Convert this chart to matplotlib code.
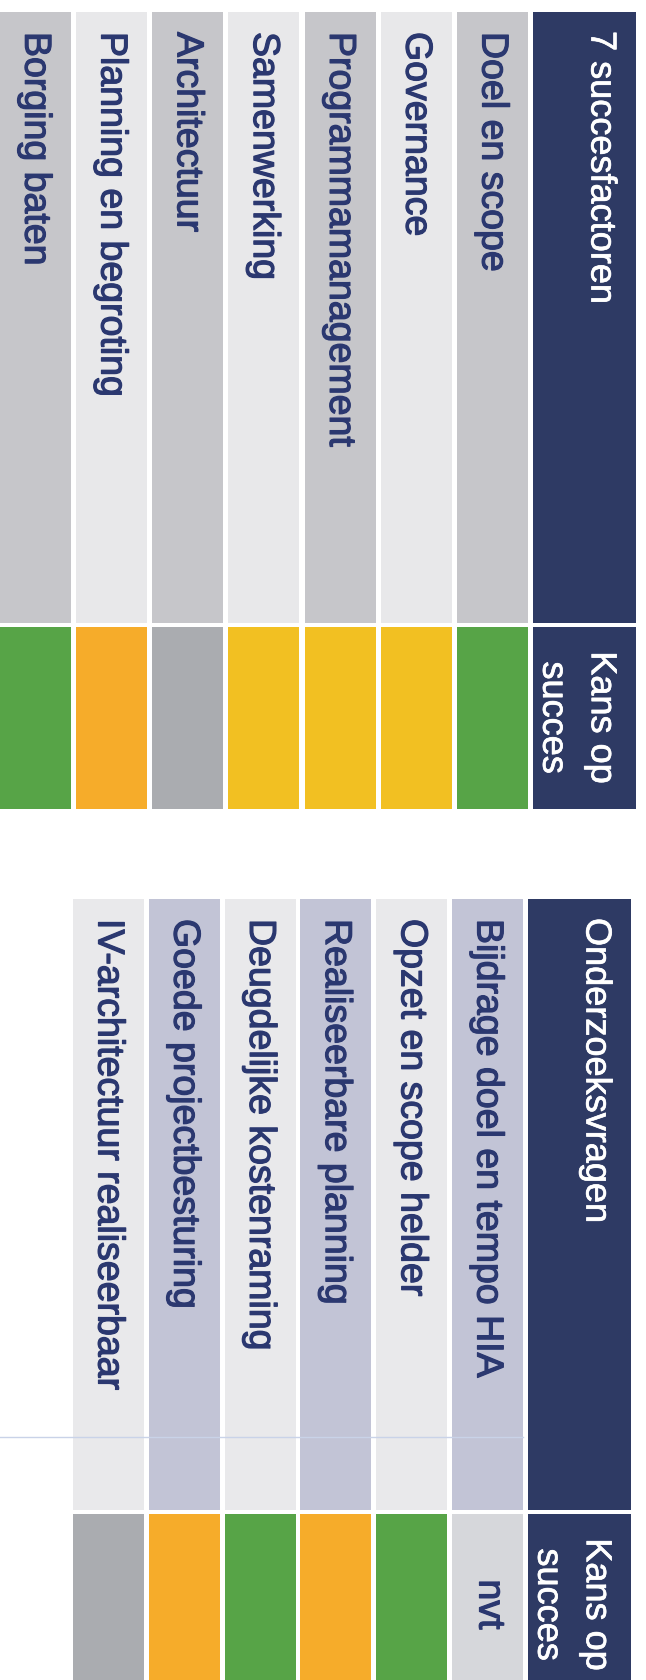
# -*- coding: utf-8 -*-
import matplotlib.pyplot as plt
import matplotlib.patheffects as pe
from matplotlib.patches import Rectangle

plt.rcParams['font.family'] = ['Liberation Sans', 'DejaVu Sans']

# gegevens van de twee tabellen
factoren = ['Doel en scope', 'Governance', 'Programmamanagement', 'Samenwerking',
            'Architectuur', 'Planning en begroting', 'Borging baten']
factoren_kans = ['groen', 'geel', 'geel', 'geel', 'grijs', 'oranje', 'groen']

vragen = ['Bijdrage doel en tempo HIA', 'Opzet en scope helder', 'Realiseerbare planning',
          'Deugdelijke kostenraming', 'Goede projectbesturing', 'IV-architectuur realiseerbaar']
vragen_kans = ['nvt', 'groen', 'oranje', 'groen', 'oranje', 'grijs']

kleuren = {'groen': '#57A447', 'geel': '#F2C022', 'oranje': '#F6AC2A',
           'grijs': '#AAACB0', 'nvt': '#D6D7DB'}

NAVY = '#2E3A64'
TEXT = '#2B3870'

W, H = 646, 1681
fig = plt.figure(figsize=(W / 100, H / 100), dpi=100)
fig.patch.set_facecolor('white')
ax = fig.add_axes([0, 0, 1, 1])
ax.set_xlim(0, W)
ax.set_ylim(H, 0)
ax.axis('off')

# scan-achtige, iets zwaardere letters
dik = [pe.withStroke(linewidth=0.9, foreground=TEXT)]
dik_wit = [pe.withStroke(linewidth=0.5, foreground='white')]


def tabel(top, right, pitch, title, labels, kansen, row_colors):
    cell_w = 71
    label_h = 611
    kans_h = 182
    gap = 3.5
    # kop
    hx = right + 5
    ax.add_patch(Rectangle((hx, top), 103, label_h, color=NAVY, lw=0))
    ax.add_patch(Rectangle((hx, top + label_h + gap), 103, kans_h, color=NAVY, lw=0))
    ax.text(hx + 68, top + 19, title, color='white', fontsize=26, rotation=-90,
            rotation_mode='anchor', ha='left', va='center', path_effects=dik_wit)
    ax.text(hx + 44, top + label_h + gap + kans_h / 2, 'Kans op\nsucces', color='white',
            fontsize=26, rotation=-90, rotation_mode='anchor', ha='center', va='center',
            multialignment='center', linespacing=1.5, path_effects=dik_wit)
    for i, (lab, kans) in enumerate(zip(labels, kansen)):
        x1 = right - i * pitch
        x0 = x1 - cell_w
        cx = (x0 + x1) / 2
        ax.add_patch(Rectangle((x0, top), cell_w, label_h, color=row_colors[i % 2], lw=0))
        ax.add_patch(Rectangle((x0, top + label_h + gap), cell_w, kans_h,
                               color=kleuren[kans], lw=0))
        ax.text(cx, top + 20, lab, color=TEXT, fontsize=27, rotation=-90,
                rotation_mode='anchor', ha='left', va='center', path_effects=dik)
        if kans == 'nvt':
            ax.text(cx + 2, top + label_h + gap + kans_h / 2, 'nvt', color=TEXT, fontsize=27,
                    rotation=-90, rotation_mode='anchor', ha='center', va='center',
                    path_effects=dik)


tabel(13, 528, 76.2, '7 succesfactoren', factoren, factoren_kans, ['#C6C6CA', '#E8E8EA'])
tabel(900, 523, 75.8, 'Onderzoeksvragen', vragen, vragen_kans, ['#C2C4D6', '#E9E9EB'])

# vage hulplijn uit de scan
ax.axhline(1438, xmin=0, xmax=0.81, color='#C9D3E8', lw=1)

fig.savefig('out.png', dpi=100, facecolor='white')
